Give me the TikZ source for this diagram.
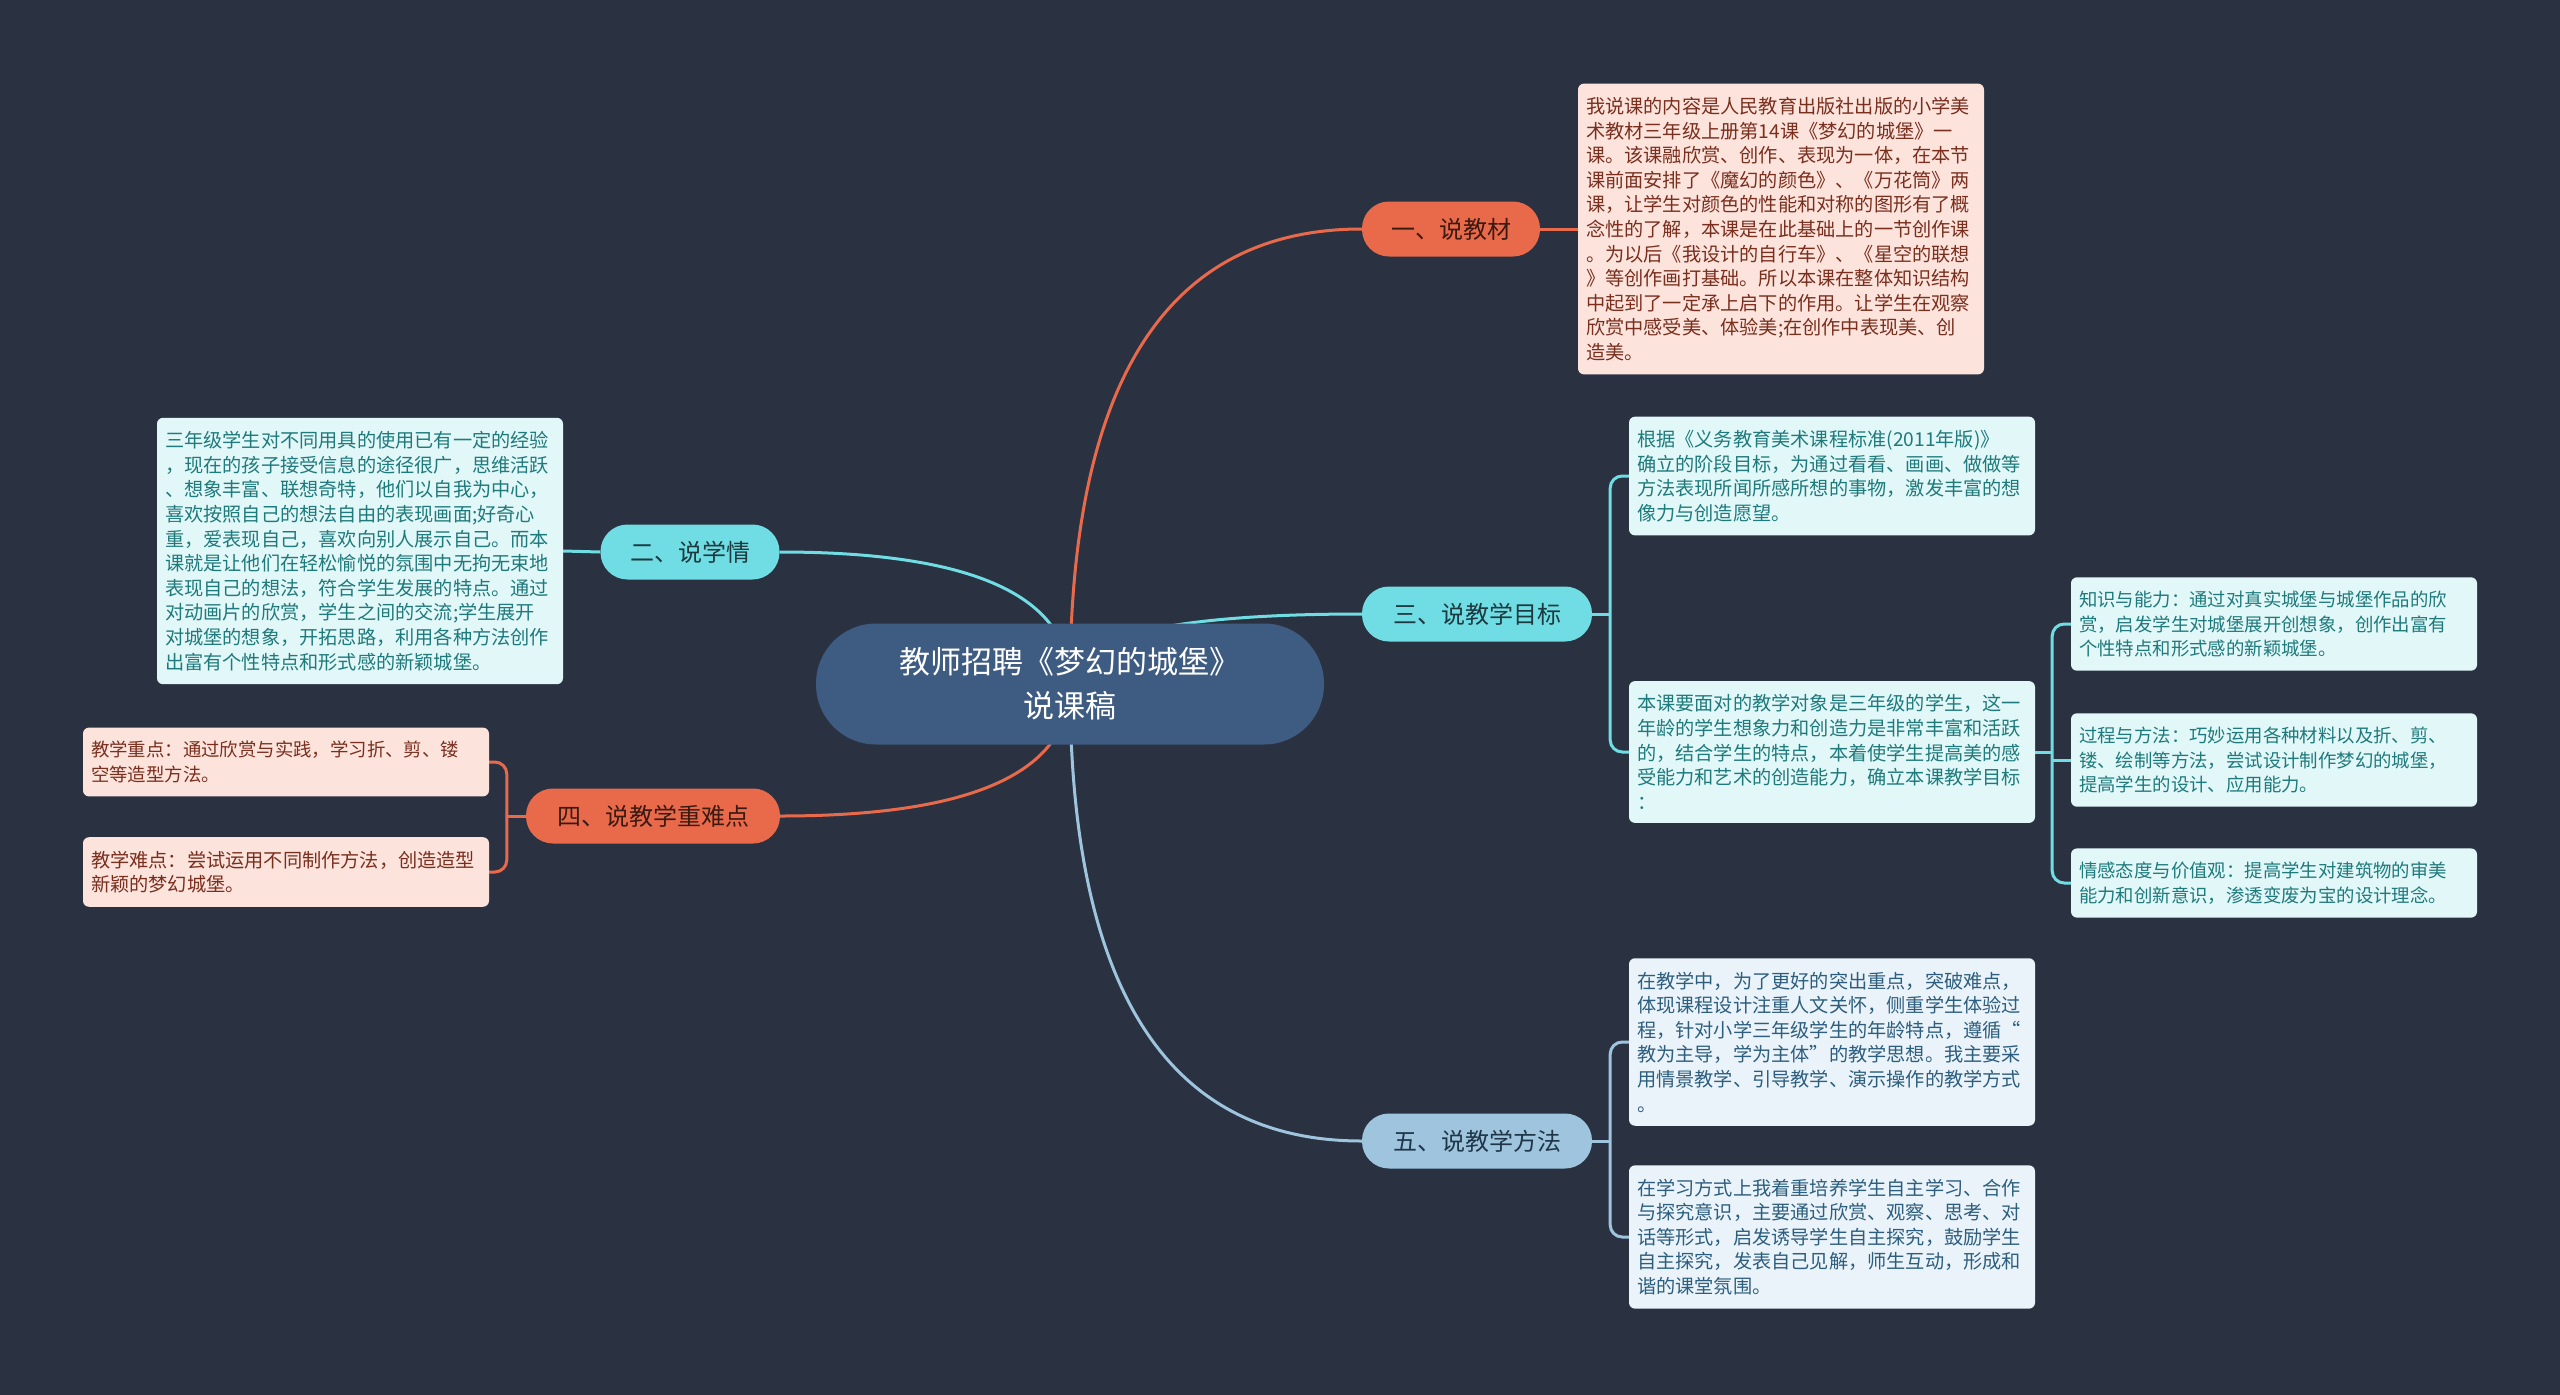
\documentclass[tikz,border=0pt]{standalone}
\usepackage{fontspec}
\setmainfont{Noto Sans CJK SC}
\usepackage{tikz}
\usetikzlibrary{positioning, calc, backgrounds}

\definecolor{bgdark}{HTML}{2A3242}
\definecolor{rootblue}{HTML}{3E5B82}
\definecolor{orgline}{HTML}{E96A4B}
\definecolor{orgtext}{HTML}{3B1A12}
\definecolor{orgnote}{HTML}{FCE4DC}
\definecolor{orgnotetext}{HTML}{7A2E1E}
\definecolor{cyanline}{HTML}{6FDDE3}
\definecolor{cyantext}{HTML}{1C3A40}
\definecolor{cyannote}{HTML}{E1F7F8}
\definecolor{cyannotetext}{HTML}{1F7A7C}
\definecolor{blueline}{HTML}{9EC4DE}
\definecolor{bluetext}{HTML}{1F3648}
\definecolor{bluenote}{HTML}{EAF3F9}
\definecolor{bluenotetext}{HTML}{2D5E7E}

\begin{document}
\begin{tikzpicture}[
    x=1pt, y=-1pt,
    root/.style={rectangle, fill=rootblue, rounded corners=60pt, minimum width=508pt, minimum height=121pt, align=center, text=white, font=\fontsize{31pt}{44pt}\selectfont},
    topic/.style={rectangle, rounded corners=27pt, minimum height=55pt, inner sep=0pt, font=\fontsize{24pt}{28pt}\selectfont},
    note/.style={rectangle, rounded corners=6pt, text width=390pt, inner xsep=8pt, inner ysep=13.5pt, align=left, font=\fontsize{19.2pt}{24.6pt}\selectfont},
    tight/.style={font=\fontsize{18.4pt}{24.6pt}\selectfont},
    link/.style={line width=3pt}
]
    \node (r) [root] at (1070,684) {教师招聘《梦幻的城堡》\\说课稿};

    % branches
    \node (b1) [topic, fill=orgline, text=orgtext, minimum width=178pt] at (1451,229) {一、说教材};
    \node (b2) [topic, fill=cyanline, text=cyantext, minimum width=179pt] at (690,552) {二、说学情};
    \node (b3) [topic, fill=cyanline, text=cyantext, minimum width=230pt] at (1477,614) {三、说教学目标};
    \node (b4) [topic, fill=orgline, text=orgtext, minimum width=254pt] at (653,816) {四、说教学重难点};
    \node (b5) [topic, fill=blueline, text=bluetext, minimum width=230pt] at (1477,1141) {五、说教学方法};

    % notes
    \node (t1) [note, fill=orgnote, text=orgnotetext] at (1781,229) {我说课的内容是人民教育出版社出版的小学美\\
术教材三年级上册第14课《梦幻的城堡》一\\
课。该课融欣赏、创作、表现为一体，在本节\\
课前面安排了《魔幻的颜色》、《万花筒》两\\
课，让学生对颜色的性能和对称的图形有了概\\
念性的了解，本课是在此基础上的一节创作课\\
。为以后《我设计的自行车》、《星空的联想\\
》等创作画打基础。所以本课在整体知识结构\\
中起到了一定承上启下的作用。让学生在观察\\
欣赏中感受美、体验美;在创作中表现美、创\\
造美。};
    \node (t2) [note, fill=cyannote, text=cyannotetext] at (360,551) {三年级学生对不同用具的使用已有一定的经验\\
，现在的孩子接受信息的途径很广，思维活跃\\
、想象丰富、联想奇特，他们以自我为中心，\\
喜欢按照自己的想法自由的表现画面;好奇心\\
重，爱表现自己，喜欢向别人展示自己。而本\\
课就是让他们在轻松愉悦的氛围中无拘无束地\\
表现自己的想法，符合学生发展的特点。通过\\
对动画片的欣赏，学生之间的交流;学生展开\\
对城堡的想象，开拓思路，利用各种方法创作\\
出富有个性特点和形式感的新颖城堡。};
    \node (t3) [note, fill=cyannote, text=cyannotetext] at (1832,476) {根据《义务教育美术课程标准(2011年版)》\\
确立的阶段目标，为通过看看、画画、做做等\\
方法表现所闻所感所想的事物，激发丰富的想\\
像力与创造愿望。};
    \node (t4) [note, fill=cyannote, text=cyannotetext] at (1832,752) {本课要面对的教学对象是三年级的学生，这一\\
年龄的学生想象力和创造力是非常丰富和活跃\\
的，结合学生的特点，本着使学生提高美的感\\
受能力和艺术的创造能力，确立本课教学目标\\
：};
    \node (g1) [note, tight, fill=cyannote, text=cyannotetext] at (2274,624) {知识与能力：通过对真实城堡与城堡作品的欣\\
赏，启发学生对城堡展开创想象，创作出富有\\
个性特点和形式感的新颖城堡。};
    \node (g2) [note, tight, fill=cyannote, text=cyannotetext] at (2274,760) {过程与方法：巧妙运用各种材料以及折、剪、\\
镂、绘制等方法，尝试设计制作梦幻的城堡，\\
提高学生的设计、应用能力。};
    \node (g3) [note, tight, fill=cyannote, text=cyannotetext] at (2274,883) {情感态度与价值观：提高学生对建筑物的审美\\
能力和创新意识，渗透变废为宝的设计理念。};
    \node (k1) [note, tight, fill=orgnote, text=orgnotetext] at (286,762) {教学重点：通过欣赏与实践，学习折、剪、镂\\
空等造型方法。};
    \node (k2) [note, fill=orgnote, text=orgnotetext] at (286,872) {教学难点：尝试运用不同制作方法，创造造型\\
新颖的梦幻城堡。};
    \node (m1) [note, fill=bluenote, text=bluenotetext] at (1832,1042) {在教学中，为了更好的突出重点，突破难点，\\
体现课程设计注重人文关怀，侧重学生体验过\\
程，针对小学三年级学生的年龄特点，遵循“\\
教为主导，学为主体”的教学思想。我主要采\\
用情景教学、引导教学、演示操作的教学方式\\
。};
    \node (m2) [note, fill=bluenote, text=bluenotetext] at (1832,1237) {在学习方式上我着重培养学生自主学习、合作\\
与探究意识，主要通过欣赏、观察、思考、对\\
话等形式，启发诱导学生自主探究，鼓励学生\\
自主探究，发表自己见解，师生互动，形成和\\
谐的课堂氛围。};

    % corners and joints
    \coordinate (c1) at (r.center |- b1.west);
    \coordinate (c2) at (r.center |- b2.east);
    \coordinate (c3) at (r.center |- b3.west);
    \coordinate (c4) at (r.center |- b4.east);
    \coordinate (c5) at (r.center |- b5.west);
    \coordinate (j3) at ($(b3.east)+(18,0)$);
    \coordinate (j4) at ($(b4.west)+(-19,0)$);
    \coordinate (j5) at ($(b5.east)+(18,0)$);
    \coordinate (jg) at ($(t4.east)+(17,0)$);

    \begin{scope}[on background layer]
        \fill[bgdark] (0,0) rectangle (2560,1395);
        \draw[link, orgline] (r.center) .. controls ($(r.center)!0.667!(c1)$) and ($(b1.west)!0.667!(c1)$) .. (b1.west);
        \draw[link, cyanline] (r.center) .. controls ($(r.center)!0.667!(c2)$) and ($(b2.east)!0.667!(c2)$) .. (b2.east);
        \draw[link, cyanline] (r.center) .. controls ($(r.center)!0.667!(c3)$) and ($(b3.west)!0.667!(c3)$) .. (b3.west);
        \draw[link, orgline] (r.center) .. controls ($(r.center)!0.667!(c4)$) and ($(b4.east)!0.667!(c4)$) .. (b4.east);
        \draw[link, blueline] (r.center) .. controls ($(r.center)!0.667!(c5)$) and ($(b5.west)!0.667!(c5)$) .. (b5.west);

        \draw[link, orgline] (b1.east) -- (t1.west);
        \draw[link, cyanline] (b2.west) -- (t2.east);

        \draw[link, cyanline] (b3.east) -- (j3);
        \draw[link, cyanline, rounded corners=12pt] (t3.west) -| (j3) |- (t4.west);
        \draw[link, cyanline] (t4.east) -- (jg);
        \draw[link, cyanline, rounded corners=12pt] (g1.west) -| (jg) |- (g3.west);
        \draw[link, cyanline] (jg |- g2.west) -- (g2.west);

        \draw[link, orgline] (b4.west) -- (j4);
        \draw[link, orgline, rounded corners=12pt] (k1.east) -| (j4) |- (k2.east);

        \draw[link, blueline] (b5.east) -- (j5);
        \draw[link, blueline, rounded corners=12pt] (m1.west) -| (j5) |- (m2.west);
    \end{scope}
\end{tikzpicture}
\end{document}
